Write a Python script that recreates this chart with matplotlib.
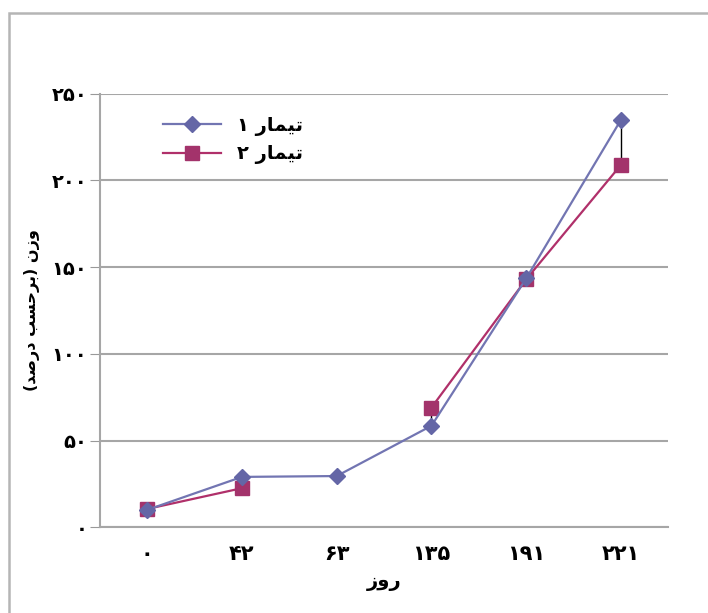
import numpy as np
import matplotlib.pyplot as plt
from matplotlib.patches import Rectangle

# Persian text is written here in visual (left-to-right) order with
# presentation forms, since matplotlib does no Arabic shaping.
days = ["۰", "۴۲", "۶۳", "۱۳۵", "۱۹۱", "۲۲۱"]
treat1 = [10, 29, 29.5, 58.5, 143.5, 235]
treat2 = [10.5, 22.5, np.nan, 69, 143, 209]
yticks = [0, 50, 100, 150, 200, 250]
ytick_labels = ["۰", "۵۰", "۱۰۰", "۱۵۰", "۲۰۰", "۲۵۰"]

name1 = "۱ \uFEAD\uFE8E\uFEE4\uFEF4\uFE97"   # تیمار ۱
name2 = "۲ \uFEAD\uFE8E\uFEE4\uFEF4\uFE97"   # تیمار ۲
xlab = "\uFEAF\uFEED\uFEAD"                   # روز
ylab = ("(\uFEAA\uFEBB\uFEAD\uFEA9 \uFE90\uFEB4\uFEA3\uFEAE\uFE91) "
        "\uFEE5\uFEAF\uFEED")                 # وزن (برحسب درصد)

plt.rcParams['font.family'] = ['DejaVu Sans']

fig = plt.figure(figsize=(7.08, 6.13), dpi=100)
ax = fig.add_axes([0.141, 0.140, 0.803, 0.707])

x = np.arange(len(days))

# high-low lines between the two series
for xi, a, b in zip(x, treat1, treat2):
    if not np.isnan(b):
        ax.plot([xi, xi], [min(a, b), max(a, b)], color="black", lw=1, zorder=1)

ax.plot(x, treat1, color="#7275b2", lw=1.6, marker="D", ms=8.5,
        mfc="#6466a6", mec="#6466a6", label=name1, zorder=3)
ax.plot(x, treat2, color="#b0306a", lw=1.6, marker="s", ms=9.5,
        mfc="#a3336b", mec="#a3336b", label=name2, zorder=2)

ax.set_xlim(-0.5, len(days) - 0.5)
ax.set_ylim(0, 250)
ax.set_xticks(x)
ax.set_xticklabels(days, fontsize=15, fontweight="bold")
ax.set_yticks(yticks)
ax.set_yticklabels(ytick_labels, fontsize=14, fontweight="bold")
ax.tick_params(axis="x", length=0, pad=12)
ax.tick_params(axis="y", length=7, color="#999999", pad=2)

ax.grid(axis="y", color="#a6a6a6", lw=1.5)
ax.set_axisbelow(True)
for s in ["top", "right"]:
    ax.spines[s].set_visible(False)
ax.spines["left"].set_color("#a6a6a6")
ax.spines["bottom"].set_color("#a6a6a6")
ax.spines["left"].set_linewidth(1.5)
ax.spines["bottom"].set_linewidth(1.5)

ax.set_xlabel(xlab, fontsize=14, fontweight="bold", labelpad=6)
ax.set_ylabel(ylab, fontsize=11.5, fontweight="bold", labelpad=8)

leg = ax.legend(loc="upper left", bbox_to_anchor=(0.08, 0.99), frameon=False,
                prop={"size": 14, "weight": "bold"}, handlelength=3,
                labelspacing=0.45)

# outer frame around the chart area
fig.patches.append(Rectangle((9 / 708, -0.1), 1.2, 1.1 - 13 / 613,
                             transform=fig.transFigure, fill=False,
                             ec="#b5b5b5", lw=1.8))

fig.savefig("out.png", dpi=100)
